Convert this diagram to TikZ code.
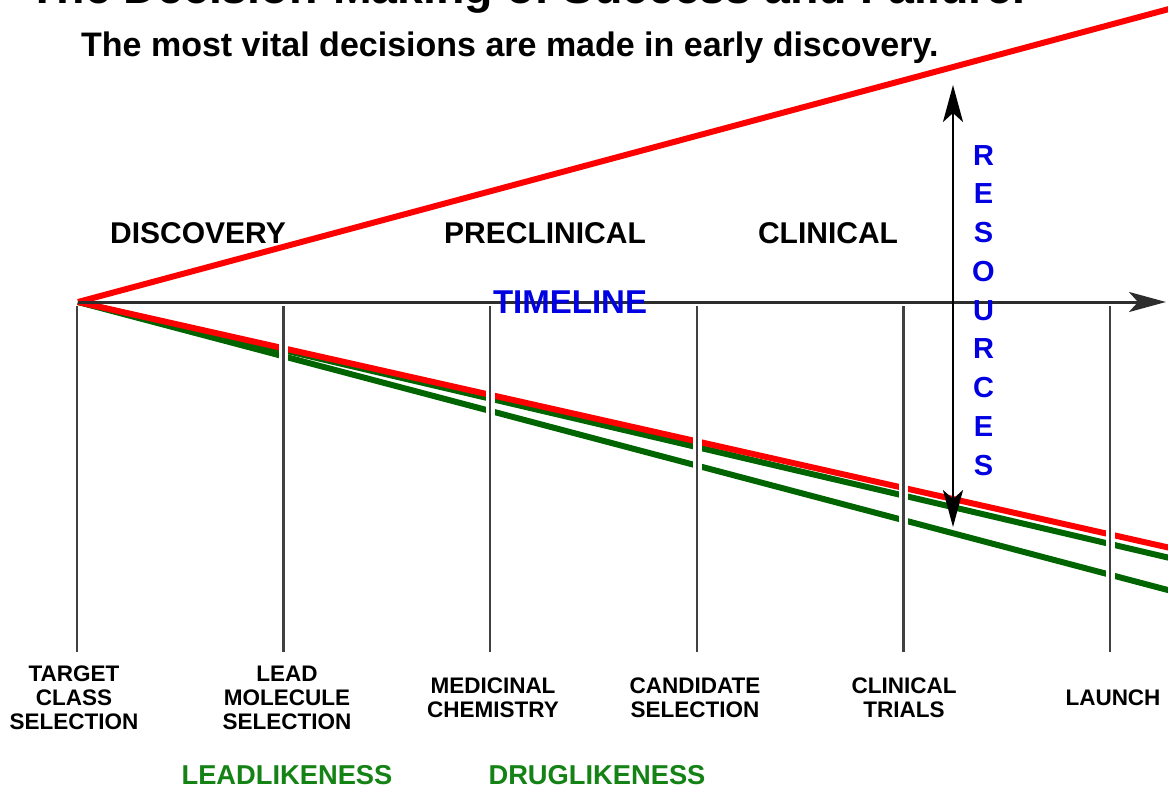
\documentclass[tikz,border=0pt]{standalone}
\usepackage{fontspec}
\setmainfont{Liberation Sans}
\usetikzlibrary{arrows.meta}

\definecolor{costred}{RGB}{255,0,0}
\definecolor{darkgreen}{RGB}{0,100,0}
\definecolor{labelgreen}{RGB}{20,130,20}
\definecolor{axisgray}{RGB}{45,45,45}
\definecolor{tickgray}{RGB}{65,65,65}
\definecolor{textblue}{RGB}{0,0,225}

\newcommand\boldsize[1]{\fontsize{#1}{#1}\selectfont\bfseries}

\begin{document}
\begin{tikzpicture}[x=1pt,y=-1pt,
  trend/.style={line width=6pt, line cap=butt},
  tickline/.style={tickgray, line width=2.5pt},
  halo/.style={white, line width=9pt},
  phase/.style={font=\boldsize{30}, anchor=base, inner sep=0pt},
  milestone/.style={font=\fontsize{22.5}{24}\selectfont\bfseries, align=center, inner sep=0pt, anchor=center},
  likeness/.style={font=\boldsize{27.3}, text=labelgreen, anchor=base, inner sep=0pt},
  resletter/.style={font=\boldsize{29}, text=textblue, anchor=base, inner sep=0pt},
  bighead/.tip={Stealth[length=37pt,width=20pt,inset=9pt]}
]
\useasboundingbox (0,0) rectangle (1168,788);
\begin{scope}
\clip (0,0) rectangle (1168,788);

% headings
\node[font=\boldsize{46.5}, anchor=base west, inner sep=0pt] (title) at (28,3.5)
  {The Decision-Making of Success and Failure.};
\node[font=\boldsize{34}, anchor=base west, inner sep=0pt] (subtitle) at (81,56)
  {The most vital decisions are made in early discovery.};

% origin and end points of the trend lines
\coordinate (O) at (78,302);
\coordinate (costEnd) at (1175,7.4);
\coordinate (redEnd) at (1175,549.0);
\coordinate (greenAEnd) at (1175,559.2);
\coordinate (greenBEnd) at (1175,591.9);

\draw[trend, darkgreen] (O) -- (greenBEnd);
\draw[trend, darkgreen] (O) -- (greenAEnd);
\draw[trend, costred] (O) -- (redEnd);
\draw[trend, costred] (O) -- (costEnd);

% milestone ticks with a white gap around them
\foreach \i/\x in {1/77,2/283.5,3/490,4/697,5/903.5,6/1110}{
  \coordinate (t\i) at (\x,306);
  \coordinate (b\i) at (\x,652);
  \draw[halo] (t\i) -- (b\i);
  \draw[tickline] (t\i) -- (b\i);
}

% timeline axis
\coordinate (axisEnd) at (1166,302);
\draw[axisgray, line width=3pt, -bighead] (O) -- (axisEnd);
\node[font=\boldsize{33}, text=textblue, anchor=base, inner sep=0pt] (timeline) at (570,313) {TIMELINE};

% resources arrow
\coordinate (resTop) at (953,85);
\coordinate (resBot) at (953,527);
\draw[black, line width=2.5pt, bighead-bighead] (resBot) -- (resTop);
\foreach \j/\c in {0/R,1/E,2/S,3/O,4/U,5/R,6/C,7/E,8/S}{
  \node[resletter] (res\j) at (983.5,165+38.75*\j) {\c};
}

% phases
\node[phase] (discovery) at (198,243) {DISCOVERY};
\node[phase] (preclinical) at (545,243) {PRECLINICAL};
\node[phase] (clinical) at (828,243) {CLINICAL};

% milestones
\node[milestone] (m1) at (74,698) {TARGET\\CLASS\\SELECTION};
\node[milestone] (m2) at (287,698) {LEAD\\MOLECULE\\SELECTION};
\node[milestone] (m3) at (493,698) {MEDICINAL\\CHEMISTRY};
\node[milestone] (m4) at (695,698) {CANDIDATE\\SELECTION};
\node[milestone] (m5) at (904,698) {CLINICAL\\TRIALS};
\node[milestone] (m6) at (1113,698) {LAUNCH};

% likeness labels
\node[likeness] (lead) at (287,784) {LEADLIKENESS};
\node[likeness] (drug) at (597,784) {DRUGLIKENESS};
\end{scope}
\end{tikzpicture}
\end{document}
